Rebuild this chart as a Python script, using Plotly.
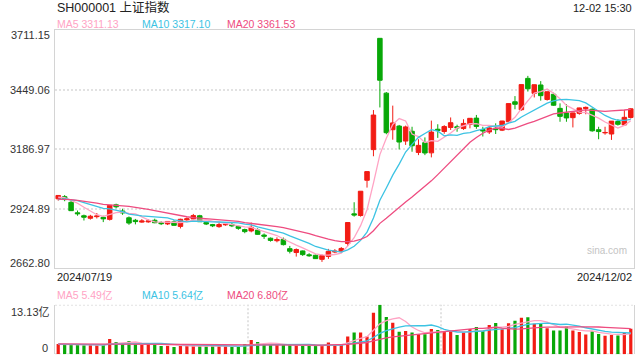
import plotly.graph_objects as go
import pandas as pd

# ---------------- data ----------------
dates = [
    "2024-07-19", "2024-07-22", "2024-07-23", "2024-07-24", "2024-07-25", "2024-07-26",
    "2024-07-29", "2024-07-30", "2024-07-31", "2024-08-01", "2024-08-02", "2024-08-05",
    "2024-08-06", "2024-08-07", "2024-08-08", "2024-08-09", "2024-08-12", "2024-08-13",
    "2024-08-14", "2024-08-15", "2024-08-16", "2024-08-19", "2024-08-20", "2024-08-21",
    "2024-08-22", "2024-08-23", "2024-08-26", "2024-08-27", "2024-08-28", "2024-08-29",
    "2024-08-30", "2024-09-02", "2024-09-03", "2024-09-04", "2024-09-05", "2024-09-06",
    "2024-09-09", "2024-09-10", "2024-09-11", "2024-09-12", "2024-09-13", "2024-09-18",
    "2024-09-19", "2024-09-20", "2024-09-23", "2024-09-24", "2024-09-25", "2024-09-26",
    "2024-09-27", "2024-09-30", "2024-10-08", "2024-10-09", "2024-10-10", "2024-10-11",
    "2024-10-14", "2024-10-15", "2024-10-16", "2024-10-17", "2024-10-18", "2024-10-21",
    "2024-10-22", "2024-10-23", "2024-10-24", "2024-10-25", "2024-10-28", "2024-10-29",
    "2024-10-30", "2024-10-31", "2024-11-01", "2024-11-04", "2024-11-05", "2024-11-06",
    "2024-11-07", "2024-11-08", "2024-11-11", "2024-11-12", "2024-11-13", "2024-11-14",
    "2024-11-15", "2024-11-18", "2024-11-19", "2024-11-20", "2024-11-21", "2024-11-22",
    "2024-11-25", "2024-11-26", "2024-11-27", "2024-11-28", "2024-11-29", "2024-12-02",
]

opens = [
    2967.6, 2977.0, 2952.0, 2906.0, 2893.0, 2882.0, 2889.0, 2886.0, 2877.0, 2941.0,
    2914.0, 2884.0, 2873.0, 2865.0, 2866.0, 2873.0, 2862.0, 2857.0, 2866.0, 2846.0,
    2875.0, 2879.0, 2893.0, 2863.0, 2854.0, 2845.0, 2853.0, 2854.0, 2846.0, 2832.0,
    2826.0, 2830.0, 2808.0, 2794.0, 2783.0, 2789.0, 2748.0, 2731.0, 2738.0, 2721.0,
    2719.0, 2701.0, 2714.0, 2733.0, 2737.0, 2770.75, 2901.42, 2893.98, 3049.22, 3184.27,
    3674.40, 3433.0, 3272.0, 3288.0, 3222.0, 3265.0, 3172.0, 3215.0, 3170.0, 3274.0,
    3264.0, 3282.0, 3285.0, 3277.0, 3295.0, 3323.0, 3273.0, 3262.0, 3278.0, 3270.0,
    3307.0, 3395.0, 3360.0, 3498.0, 3432.0, 3469.0, 3405.0, 3428.0, 3366.0, 3345.0,
    3325.0, 3344.0, 3365.0, 3362.0, 3272.0, 3258.0, 3253.0, 3308.0, 3293.0, 3326.0,
]

highs = [
    2983.5, 2984.0, 2966.0, 2916.0, 2898.0, 2897.0, 2905.0, 2893.0, 2939.0, 2946.0,
    2924.0, 2890.0, 2879.0, 2878.0, 2877.0, 2880.0, 2869.0, 2868.0, 2873.0, 2880.0,
    2886.0, 2901.0, 2897.0, 2866.0, 2857.0, 2862.0, 2863.0, 2862.0, 2849.0, 2836.0,
    2863.0, 2838.0, 2815.0, 2797.0, 2798.0, 2797.0, 2760.0, 2749.0, 2740.0, 2728.0,
    2722.0, 2723.0, 2747.0, 2746.0, 2755.0, 2863.13, 2952.45, 3000.95, 3087.53, 3358.59,
    3674.40, 3438.0, 3378.0, 3293.0, 3290.0, 3285.0, 3230.0, 3238.0, 3312.0, 3296.0,
    3292.0, 3326.0, 3294.0, 3318.0, 3322.5, 3337.0, 3285.0, 3292.0, 3300.0, 3311.0,
    3387.0, 3420.0, 3471.0, 3509.0, 3471.0, 3486.0, 3440.0, 3435.0, 3388.0, 3385.0,
    3347.0, 3369.0, 3374.0, 3366.0, 3285.0, 3285.0, 3310.0, 3318.0, 3359.0, 3367.0,
]

lows = [
    2959.5, 2957.0, 2914.0, 2893.0, 2872.0, 2876.0, 2881.0, 2865.0, 2872.0, 2926.0,
    2897.0, 2853.0, 2855.0, 2862.0, 2862.0, 2860.0, 2852.0, 2852.0, 2850.0, 2837.0,
    2871.0, 2877.0, 2866.0, 2852.0, 2843.0, 2840.0, 2849.0, 2843.0, 2831.0, 2816.0,
    2820.0, 2809.0, 2791.0, 2779.0, 2776.0, 2762.0, 2727.0, 2713.0, 2716.0, 2712.0,
    2703.0, 2689.7, 2703.0, 2728.0, 2731.0, 2759.14, 2889.05, 2889.05, 3017.0, 3155.0,
    3370.0, 3252.0, 3228.0, 3185.0, 3205.0, 3175.0, 3160.0, 3160.0, 3150.0, 3236.0,
    3254.0, 3271.0, 3263.0, 3271.0, 3278.0, 3276.0, 3242.0, 3253.0, 3253.0, 3266.0,
    3302.0, 3362.0, 3356.0, 3440.0, 3414.0, 3400.0, 3400.0, 3377.0, 3307.0, 3307.0,
    3282.0, 3338.0, 3340.0, 3263.0, 3230.0, 3250.0, 3227.0, 3290.0, 3290.0, 3321.0,
]

closes = [
    2982.31, 2964.22, 2915.37, 2901.95, 2886.74, 2890.90, 2891.85, 2879.30, 2938.75, 2932.39,
    2905.34, 2860.70, 2867.28, 2869.90, 2869.83, 2862.19, 2858.20, 2867.95, 2850.65, 2877.36,
    2879.43, 2893.67, 2866.66, 2856.58, 2848.77, 2854.37, 2855.52, 2848.73, 2837.43, 2823.11,
    2842.21, 2811.04, 2802.98, 2784.28, 2788.31, 2765.81, 2736.49, 2744.19, 2721.80, 2717.12,
    2704.09, 2717.28, 2736.02, 2736.81, 2748.92, 2863.13, 2896.31, 3000.95, 3087.53, 3336.50,
    3489.78, 3258.86, 3301.93, 3217.74, 3284.32, 3201.29, 3202.95, 3169.38, 3261.56, 3268.11,
    3285.87, 3302.80, 3280.26, 3299.70, 3322.20, 3286.41, 3266.24, 3279.82, 3272.01, 3310.21,
    3386.99, 3383.81, 3470.66, 3452.30, 3470.07, 3421.97, 3439.28, 3379.84, 3330.73, 3323.85,
    3346.01, 3367.99, 3370.40, 3267.19, 3263.76, 3259.76, 3309.78, 3295.70, 3326.46, 3363.98,
]

# volume in 亿
volumes = [
    2.75, 2.45, 2.50, 2.45, 2.40, 2.45, 2.40, 2.45, 4.05, 3.25,
    2.75, 3.50, 2.70, 2.45, 2.70, 2.70, 2.20, 2.25, 1.95, 2.20,
    2.20, 2.25, 2.20, 2.15, 2.20, 2.20, 2.25, 1.95, 1.95, 2.70,
    3.80, 3.25, 2.50, 2.45, 2.45, 2.50, 2.45, 2.45, 2.20, 2.20,
    2.20, 2.45, 3.10, 2.45, 2.45, 4.70, 5.75, 5.75, 4.70, 11.00,
    13.13, 9.85, 8.35, 6.00, 6.15, 5.75, 5.30, 5.30, 6.70, 6.45,
    6.15, 6.15, 5.10, 5.75, 6.70, 7.20, 6.15, 7.75, 8.30, 6.60,
    8.20, 8.90, 9.70, 9.80, 8.10, 8.10, 6.90, 6.30, 6.30, 7.30,
    6.30, 5.90, 5.25, 6.10, 5.40, 4.90, 5.10, 5.00, 5.70, 6.75,
]

# sessions before the window (needed for the moving averages at the left edge)
prior_closes = [
    2963.10, 2950.00, 2972.53, 2945.85, 2967.40, 2994.73, 2997.01, 2982.38, 2957.57, 2949.93,
    2922.45, 2959.37, 2939.36, 2970.39, 2971.30, 2974.01, 2976.30, 2962.99, 2977.13,
]
prior_volumes = [
    3.10, 2.90, 2.80, 2.90, 2.70, 3.00, 2.90, 2.80, 2.70, 2.60,
    2.90, 2.70, 2.60, 2.80, 2.70, 2.60, 2.70, 2.50, 2.70,
]

price_ticks = [3711.15, 3449.06, 3186.97, 2924.89, 2662.80]
vol_max_label = "13.13亿"
vol_ticks = [13.13, 0]

title_text = "SH000001 上证指数"
time_text = "12-02 15:30"
watermark = "sina.com"
ma_price_labels = ["MA5 3311.13", "MA10 3317.10", "MA20 3361.53"]
ma_vol_labels = ["MA5 5.49亿", "MA10 5.64亿", "MA20 6.80亿"]
ma_windows = [5, 10, 20]

# ---------------- style ----------------
RED = "#f21c14"
GREEN = "#08a808"
MA_COLORS = ["#ffa3c4", "#3cc3e3", "#ee4c80"]
GRID = "#e2e2e2"
BORDER = "#d4d4d4"
TXT = "#333333"
FONT = "Liberation Sans, Arial, Noto Sans CJK SC, sans-serif"

W, H = 640, 360
L, R = 55, 634
MAIN_TOP, MAIN_BOT = 30, 268
VOL_TOP, VOL_BOT = 304.7, 354.3


def py(p):
    return 1 - p / H


def px(p):
    return (p - L) / (R - L)


all_close = pd.Series(prior_closes + closes)
all_vol = pd.Series(prior_volumes + volumes)
n_prior = len(prior_closes)

fig = go.Figure()

fig.add_trace(go.Candlestick(
    x=dates, open=opens, high=highs, low=lows, close=closes,
    increasing=dict(line=dict(color=RED, width=1), fillcolor=RED),
    decreasing=dict(line=dict(color=GREEN, width=1), fillcolor=GREEN),
    whiskerwidth=0, hoverinfo="skip", showlegend=False,
    xaxis="x", yaxis="y",
))

for w, c in zip(ma_windows, MA_COLORS):
    ma = all_close.rolling(w).mean().iloc[n_prior:].tolist()
    fig.add_trace(go.Scatter(x=dates, y=ma, mode="lines",
                             line=dict(color=c, width=1.3),
                             hoverinfo="skip", showlegend=False,
                             xaxis="x", yaxis="y"))

vol_colors = [RED if c >= o else GREEN for o, c in zip(opens, closes)]
fig.add_trace(go.Bar(x=dates, y=volumes, marker=dict(color=vol_colors, line=dict(width=0)),
                     width=0.5, hoverinfo="skip", showlegend=False,
                     xaxis="x2", yaxis="y2"))

for w, c in zip(ma_windows, MA_COLORS):
    ma = all_vol.rolling(w).mean().iloc[n_prior:].tolist()
    fig.add_trace(go.Scatter(x=dates, y=ma, mode="lines",
                             line=dict(color=c, width=1.3),
                             hoverinfo="skip", showlegend=False,
                             xaxis="x2", yaxis="y2"))

fig.update_layout(
    width=W, height=H,
    margin=dict(l=L, r=W - R, t=0, b=0, pad=0),
    paper_bgcolor="white", plot_bgcolor="white",
    font=dict(family=FONT, size=11, color=TXT),
    boxgap=0.3, boxgroupgap=0,
    xaxis=dict(type="category", range=[-0.5, len(dates) - 0.5], domain=[0, 1],
               anchor="y", showticklabels=False, ticks="", showgrid=False,
               showline=True, mirror=True, linecolor=BORDER, linewidth=1,
               rangeslider=dict(visible=False), fixedrange=True),
    yaxis=dict(range=[price_ticks[-1], price_ticks[0]],
               domain=[py(MAIN_BOT), py(MAIN_TOP)], anchor="x",
               tickvals=price_ticks[1:-1], showticklabels=False, ticks="",
               showgrid=True, gridcolor=GRID, gridwidth=2, griddash="2px,2px",
               zeroline=False, showline=True, mirror=True,
               linecolor=BORDER, linewidth=1),
    xaxis2=dict(type="category", range=[-0.5, len(dates) - 0.5], domain=[0, 1],
                anchor="y2", matches="x", showticklabels=False, ticks="",
                showgrid=False, showline=False, zeroline=False),
    yaxis2=dict(range=[vol_ticks[1], vol_ticks[0]],
                domain=[py(VOL_BOT), py(VOL_TOP)], anchor="x2",
                showticklabels=False, ticks="", showgrid=False, zeroline=False,
                showline=True, mirror=True, linecolor=BORDER, linewidth=1),
    bargap=0.5,
)

dot = dict(color=GRID, width=2, dash="2px,2px")
shapes = []
for v in vol_ticks:
    shapes.append(dict(type="line", xref="x2 domain", yref="y2",
                       x0=0, x1=1, y0=v, y1=v, line=dot, layer="below"))
for f in (1 / 3, 2 / 3):
    shapes.append(dict(type="line", xref="x2 domain", yref="y2 domain",
                       x0=f, x1=f, y0=0, y1=1, line=dot, layer="below"))
fig.update_layout(shapes=shapes)

ann = []
# title and time
ann.append(dict(text=title_text, xref="paper", yref="paper", x=0, y=py(7.5),
                xanchor="left", yanchor="middle", showarrow=False,
                font=dict(size=12.5, color="#222")))
ann.append(dict(text=time_text, xref="paper", yref="paper", x=1, y=py(8),
                xanchor="right", yanchor="middle", showarrow=False,
                font=dict(size=11, color="#222")))
# MA legends
leg_x = [55, 140, 225]
for t, c, lx in zip(ma_price_labels, MA_COLORS, leg_x):
    ann.append(dict(text=t, xref="paper", yref="paper", x=px(lx), y=py(24),
                    xanchor="left", yanchor="middle", showarrow=False,
                    font=dict(size=10.5, color=c)))
for t, c, lx in zip(ma_vol_labels, MA_COLORS, leg_x):
    ann.append(dict(text=t, xref="paper", yref="paper", x=px(lx), y=py(295),
                    xanchor="left", yanchor="middle", showarrow=False,
                    font=dict(size=10.5, color=c)))
# price axis labels
for i, v in enumerate(price_ticks):
    shift = -5 if i == 0 else (5 if i == len(price_ticks) - 1 else 0)
    ann.append(dict(text=f"{v:.2f}", xref="paper", yref="y", x=0, y=v,
                    xanchor="right", yanchor="middle", xshift=-3, yshift=shift,
                    showarrow=False, font=dict(size=11, color=TXT)))
# volume axis labels
ann.append(dict(text=vol_max_label, xref="paper", yref="y2", x=0, y=vol_ticks[0],
                xanchor="right", yanchor="middle", xshift=-3, yshift=-7,
                showarrow=False, font=dict(size=11, color=TXT)))
ann.append(dict(text="0", xref="paper", yref="y2", x=0, y=vol_ticks[1],
                xanchor="right", yanchor="middle", xshift=-5, yshift=6,
                showarrow=False, font=dict(size=11, color=TXT)))
# date labels
ann.append(dict(text=dates[0].replace("-", "/"), xref="paper", yref="paper",
                x=0, y=py(277), xanchor="left", yanchor="middle", showarrow=False,
                font=dict(size=11, color="#222")))
ann.append(dict(text=dates[-1].replace("-", "/"), xref="paper", yref="paper",
                x=1, y=py(277), xanchor="right", yanchor="middle", showarrow=False,
                font=dict(size=11, color="#222")))
# watermark
ann.append(dict(text=watermark, xref="paper", yref="paper", x=px(629), y=py(250),
                xanchor="right", yanchor="middle", showarrow=False,
                font=dict(size=10, color="#c4c4c4")))
fig.update_layout(annotations=ann)

fig.write_html("out.html", config={"displayModeBar": False},
               post_script="document.body.style.margin='0';document.body.style.padding='0';")
